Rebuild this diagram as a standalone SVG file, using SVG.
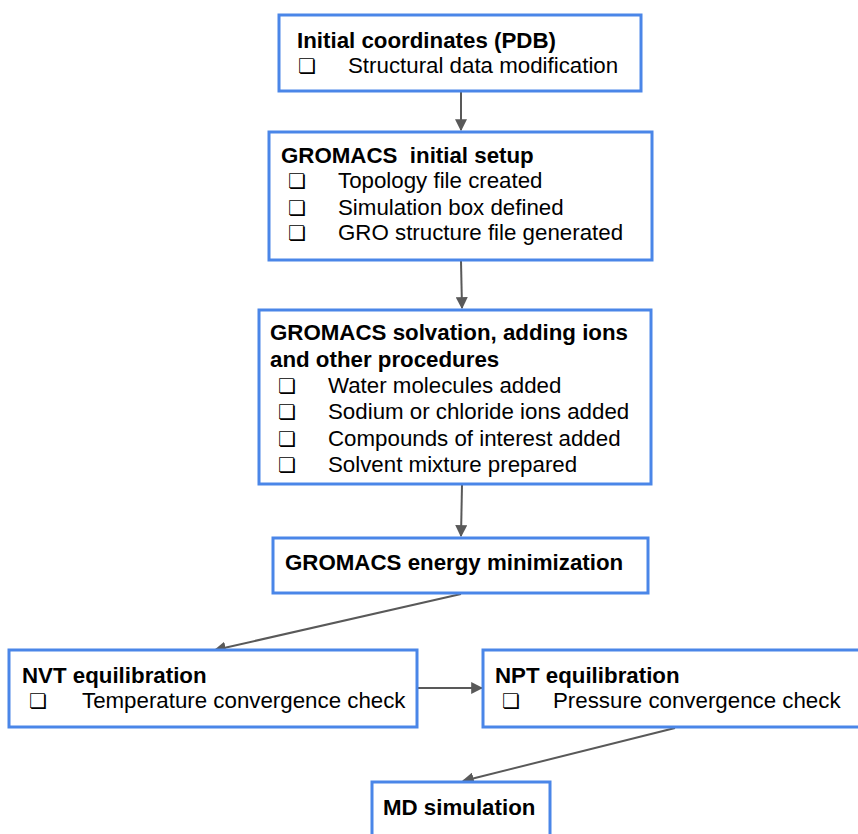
<svg xmlns="http://www.w3.org/2000/svg" width="858" height="834" viewBox="0 0 858 834">
<style>
.box{fill:#ffffff;stroke:#4a86e8;stroke-width:3}
.t{font-family:"Liberation Sans",Arial,sans-serif;font-size:22.3px;fill:#000;white-space:pre}
.b{font-weight:bold}
.cb{font-family:"DejaVu Sans",sans-serif;font-size:20px;fill:#000}
.c{stroke:#595959;stroke-width:2;fill:none;marker-end:url(#ah)}
</style>
<defs>
<marker id="ah" viewBox="0 0 10 10" refX="9" refY="5" markerWidth="12" markerHeight="12" markerUnits="userSpaceOnUse" orient="auto">
<path d="M0,0 L10,5 L0,10 z" fill="#595959"/>
</marker>
</defs>
<g id="connectors">
<line class="c" x1="461" y1="92" x2="461" y2="130"/>
<line class="c" x1="461" y1="261" x2="462" y2="308"/>
<line class="c" x1="462" y1="485" x2="461" y2="536"/>
<line class="c" x1="461" y1="594" x2="215" y2="650"/>
<line class="c" x1="418" y1="688" x2="482" y2="688"/>
<line class="c" x1="675" y1="728" x2="463" y2="781"/>
</g>
<g id="n1">
<rect class="box" x="279" y="15" width="362" height="76"/>
<text class="t b" x="297" y="48">Initial coordinates (PDB)</text>
<text class="cb" x="298" y="73">❏</text>
<text class="t" x="348" y="73">Structural data modification</text>
</g>
<g id="n2">
<rect class="box" x="269" y="132" width="383" height="128"/>
<text class="t b" x="281" y="163" xml:space="preserve">GROMACS  initial setup</text>
<text class="cb" x="288" y="188">❏</text>
<text class="t" x="338" y="188">Topology file created</text>
<text class="cb" x="288" y="215">❏</text>
<text class="t" x="338" y="215">Simulation box defined</text>
<text class="cb" x="288" y="240">❏</text>
<text class="t" x="338" y="240">GRO structure file generated</text>
</g>
<g id="n3">
<rect class="box" x="259" y="310" width="392" height="174"/>
<text class="t b" x="270" y="340">GROMACS solvation, adding ions</text>
<text class="t b" x="270" y="367">and other procedures</text>
<text class="cb" x="278" y="393">❏</text>
<text class="t" x="328" y="393">Water molecules added</text>
<text class="cb" x="278" y="419">❏</text>
<text class="t" x="328" y="419">Sodium or chloride ions added</text>
<text class="cb" x="278" y="446">❏</text>
<text class="t" x="328" y="446">Compounds of interest added</text>
<text class="cb" x="278" y="472">❏</text>
<text class="t" x="328" y="472">Solvent mixture prepared</text>
</g>
<g id="n4">
<rect class="box" x="273" y="538" width="375" height="55"/>
<text class="t b" x="285" y="570">GROMACS energy minimization</text>
</g>
<g id="n5">
<rect class="box" x="9" y="650" width="408" height="77"/>
<text class="t b" x="22" y="683">NVT equilibration</text>
<text class="cb" x="29" y="708">❏</text>
<text class="t" x="82" y="708">Temperature convergence check</text>
</g>
<g id="n6">
<rect class="box" x="483" y="650" width="380" height="77"/>
<text class="t b" x="495" y="683">NPT equilibration</text>
<text class="cb" x="502" y="708">❏</text>
<text class="t" x="553" y="708">Pressure convergence check</text>
</g>
<g id="n7">
<rect class="box" x="372" y="782" width="178" height="60"/>
<text class="t b" x="383" y="815">MD simulation</text>
</g>
</svg>
